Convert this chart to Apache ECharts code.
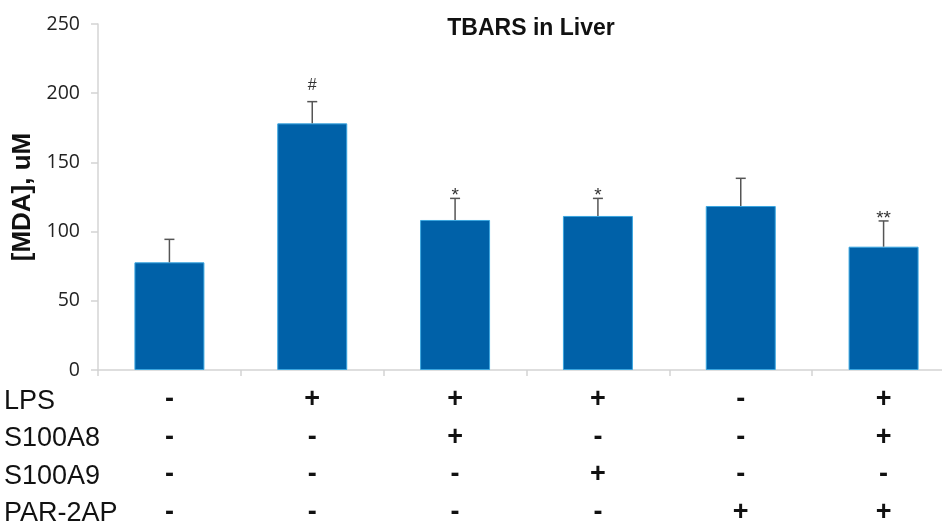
<!DOCTYPE html>
<html>
<head>
<meta charset="utf-8">
<script src="https://cdn.jsdelivr.net/npm/echarts@6/dist/echarts.min.js"></script>
<style>
  html, body { margin: 0; padding: 0; background: #fff; }
  #chart { width: 942px; height: 525px; }
</style>
</head>
<body>
<div id="chart"></div>
<script>
// Treatment table rows and per-group signs
const rowNames = ['LPS', 'S100A8', 'S100A9', 'PAR-2AP'];
const lps     = ['-', '+', '+', '+', '-', '+'];
const s100a8  = ['-', '-', '+', '-', '-', '+'];
const s100a9  = ['-', '-', '-', '+', '-', '-'];
const par2ap  = ['-', '-', '-', '-', '+', '+'];

// MDA concentration (uM): mean and upper error bar
const mda      = [77.8, 178.2, 108.4, 111.3, 118.5, 89.1];
const mdaUpper = [94.4, 193.9, 124.0, 124.0, 138.5, 107.7];
const marks    = ['', '#', '*', '*', '', '**'];

const yTicks = [0, 50, 100, 150, 200, 250];

const groups = lps.map((_, i) => 'G' + (i + 1));
const signRows = [lps, s100a8, s100a9, par2ap];
const groupLabels = groups.map((_, i) => signRows.map(r => r[i]).join('\n'));

const chart = echarts.init(document.getElementById('chart'));

const rowLabelGraphics = rowNames.map((name, k) => ({
  type: 'text',
  left: 4,
  top: 388 + k * 37.5,
  style: {
    text: name,
    font: '27px "Liberation Sans", Arial, sans-serif',
    fill: '#111'
  }
}));

chart.setOption({
  animation: false,
  title: {
    text: 'TBARS in Liver',
    left: 526,
    top: 12,
    textAlign: 'center',
    textStyle: {
      fontFamily: '"Liberation Sans", Arial, sans-serif',
      fontWeight: 'bold',
      fontSize: 23,
      color: '#111'
    }
  },
  grid: { left: 98, right: -13, top: 24, bottom: 155, outerBoundsMode: 'none', containLabel: false },
  xAxis: {
    type: 'category',
    data: groups,
    axisLine: { lineStyle: { color: '#d4d4d4', width: 1.5 } },
    axisTick: { show: true, length: 6, lineStyle: { color: '#d4d4d4', width: 1.5 } },
    axisLabel: {
      formatter: (v, i) => groupLabels[i],
      margin: 11,
      lineHeight: 37.5,
      fontSize: 27,
      fontWeight: 'bold',
      fontFamily: '"Liberation Sans", Arial, sans-serif',
      color: '#111'
    }
  },
  yAxis: {
    type: 'value',
    min: yTicks[0],
    max: yTicks[yTicks.length - 1],
    interval: 50,
    name: '[MDA], uM',
    nameLocation: 'middle',
    nameGap: 60,
    nameTextStyle: {
      fontFamily: '"Liberation Sans", Arial, sans-serif',
      fontWeight: 'bold',
      fontSize: 26,
      color: '#111'
    },
    splitLine: { show: false },
    axisLine: { show: true, lineStyle: { color: '#d4d4d4', width: 1.5 } },
    axisTick: { show: true, length: 7, lineStyle: { color: '#d4d4d4', width: 1.5 } },
    axisLabel: {
      margin: 18,
      fontSize: 19.5,
      fontFamily: '"Open Sans", "Liberation Sans", sans-serif',
      color: '#222'
    }
  },
  graphic: rowLabelGraphics,
  series: [
    {
      type: 'bar',
      data: mda,
      barWidth: '49%',
      itemStyle: { color: '#0061a8', borderColor: '#3aa6e0', borderWidth: 1 }
    },
    {
      type: 'custom',
      data: mda.map((v, i) => [i, v, mdaUpper[i]]),
      renderItem: (params, api) => {
        const base = api.coord([api.value(0), api.value(1)]);
        const top = api.coord([api.value(0), api.value(2)]);
        const half = 5;
        const style = { stroke: '#555', lineWidth: 1.5 };
        const mark = marks[params.dataIndex];
        // asterisks sit high in the em box, so they are set lower than '#'
        const isStar = mark.charAt(0) === '*';
        return {
          type: 'group',
          children: [
            { type: 'line', shape: { x1: base[0], y1: base[1], x2: top[0], y2: top[1] }, style },
            { type: 'line', shape: { x1: top[0] - half, y1: top[1], x2: top[0] + half, y2: top[1] }, style },
            {
              type: 'text',
              style: {
                text: mark,
                x: top[0],
                y: isStar ? top[1] + 7 : top[1] - 8,
                align: 'center',
                verticalAlign: 'bottom',
                font: (isStar ? '19px' : '16px') + ' "Liberation Sans", Arial, sans-serif',
                fill: '#333'
              }
            }
          ]
        };
      },
      z: 5
    }
  ]
});
</script>
</body>
</html>
